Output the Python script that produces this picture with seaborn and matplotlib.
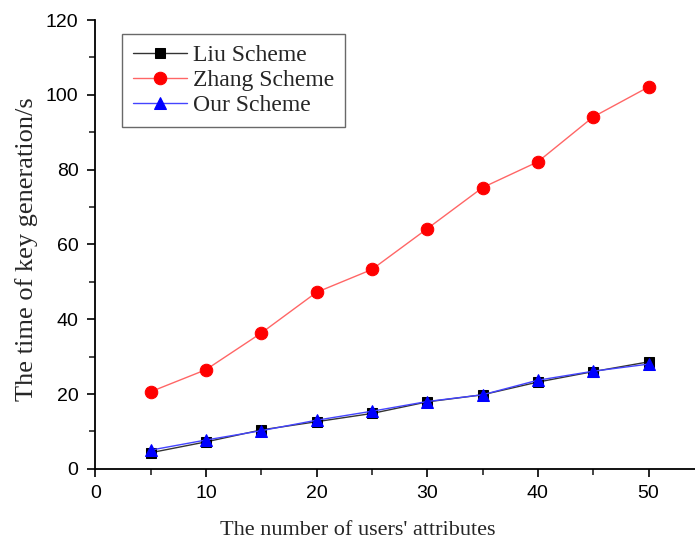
import numpy as np
import pandas as pd
import matplotlib.pyplot as plt
import seaborn as sns
from matplotlib.ticker import MultipleLocator

attributes = [5, 10, 15, 20, 25, 30, 35, 40, 45, 50]
liu = [4.3, 7.2, 10.4, 12.6, 14.8, 17.9, 19.8, 23.2, 26.0, 28.6]
zhang = [20.6, 26.5, 36.3, 47.2, 53.3, 64.2, 75.2, 82.1, 94.1, 102.1]
ours = [5.0, 7.7, 10.2, 13.0, 15.4, 18.0, 19.8, 23.7, 26.1, 28.0]
schemes = ["Liu Scheme", "Zhang Scheme", "Our Scheme"]

df = pd.DataFrame({
    "attributes": attributes * 3,
    "time": liu + zhang + ours,
    "scheme": np.repeat(schemes, len(attributes)),
})

colors = {"Liu Scheme": "black", "Zhang Scheme": "red", "Our Scheme": "blue"}
line_colors = {"Liu Scheme": "#333333", "Zhang Scheme": "#ff6666", "Our Scheme": "#4444ff"}
markers = {"Liu Scheme": "s", "Zhang Scheme": "o", "Our Scheme": "^"}
sizes = {"Liu Scheme": 7, "Zhang Scheme": 9, "Our Scheme": 9}

sns.set_style("ticks")
fig = plt.figure(figsize=(6.95, 5.42), dpi=100)
ax = fig.add_axes([0.137, 0.135, 0.863, 0.828])

for name in schemes:
    sub = df[df["scheme"] == name]
    sns.lineplot(
        data=sub, x="attributes", y="time", ax=ax,
        color=line_colors[name], linewidth=1.0,
        marker=markers[name], markersize=sizes[name],
        markerfacecolor=colors[name], markeredgecolor=colors[name],
        label=name,
    )

ax.set_xlim(0, 54.2)
ax.set_ylim(0, 120)
ax.xaxis.set_major_locator(MultipleLocator(10))
ax.xaxis.set_minor_locator(MultipleLocator(5))
ax.yaxis.set_major_locator(MultipleLocator(20))
ax.yaxis.set_minor_locator(MultipleLocator(10))
ax.tick_params(which="major", direction="out", length=6, width=1.2, labelsize=14, colors="black", pad=6)
ax.tick_params(which="minor", direction="out", length=4, width=1.2)
for lbl in ax.get_xticklabels() + ax.get_yticklabels():
    lbl.set_family("Liberation Sans")

for s in ["top", "right"]:
    ax.spines[s].set_visible(False)
for s in ["left", "bottom"]:
    ax.spines[s].set_linewidth(1.3)
    ax.spines[s].set_color("black")

ax.set_xlabel("The number of users' attributes", family="Liberation Serif", fontsize=16)
ax.set_ylabel("The time of key generation/s", family="Liberation Serif", fontsize=19)
ax.xaxis.set_label_coords(0.437, -0.117)
ax.yaxis.set_label_coords(-0.095, 0.49)

leg = ax.legend(
    loc="upper left", bbox_to_anchor=(0.045, 0.969), frameon=True, fancybox=False,
    prop={"family": "Liberation Serif", "size": 17}, handlelength=2.3,
    labelspacing=0.15, borderpad=0.45, handletextpad=0.25, borderaxespad=0,
)
leg.get_frame().set_edgecolor("#444444")
leg.get_frame().set_linewidth(1.0)

fig.savefig("out.png", dpi=100)
